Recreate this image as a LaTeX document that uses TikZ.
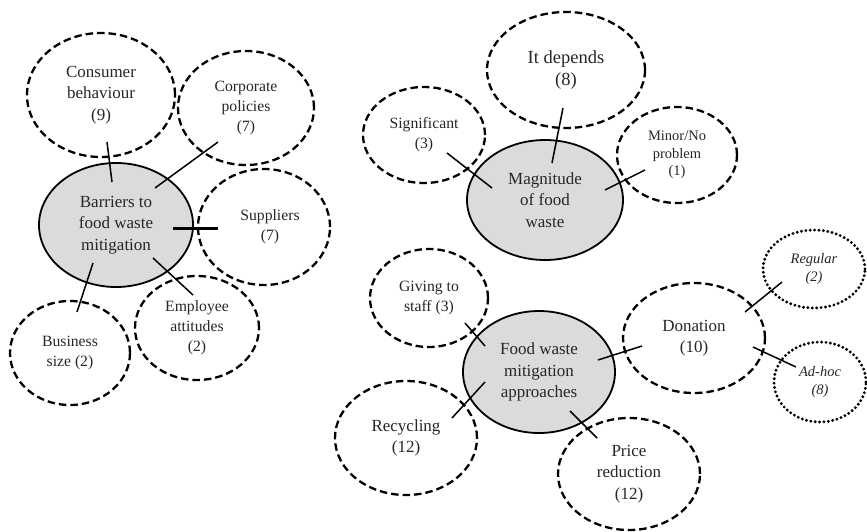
\documentclass[tikz,border=0pt]{standalone}
\usepackage{fontspec}
\setmainfont{Liberation Serif}
\usetikzlibrary{shapes.geometric,calc}
\newcommand{\hsz}{\fontsize{18.5}{22}\selectfont}
\newcommand{\bsz}{\fontsize{17}{21.5}\selectfont}
\newcommand{\msz}{\fontsize{15.7}{20}\selectfont}
\newcommand{\ssz}{\fontsize{14.5}{17.5}\selectfont}

\begin{document}
\begin{tikzpicture}[x=1pt,y=-1pt,
  sz/.style 2 args={minimum width=#1pt,minimum height=#2pt},
  bub/.style={ellipse,draw,inner sep=0pt,align=center,text=black!85},
  opt/.style={bub,line width=2.3pt,dash pattern=on 7.5pt off 4pt},
  sub/.style={bub,line width=3.2pt,line cap=round,dash pattern=on 0pt off 4.4pt},
  hub/.style={bub,line width=1.8pt,fill=black!14},
  link/.style={line width=1.5pt}]
  \useasboundingbox (0,0) rectangle (867,531);

  % barriers
  \node[hub,sz={154}{124},font=\bsz] (barr) at (116,225) {Barriers to\\food waste\\mitigation};
  \node[opt,sz={148}{124},font=\bsz] (cons) at (101,95) {Consumer\\behaviour\\(9)};
  \node[opt,sz={136}{114},font=\msz] (corp) at (246,108) {Corporate\\policies\\(7)};
  \node[opt,sz={132}{116},font=\msz] (supp) at (264,227) {\hspace*{12pt}Suppliers\\\hspace*{12pt}(7)};
  \node[opt,sz={120}{104},font=\msz] (biz) at (70,353) {Business\\size (2)};
  \node[opt,sz={124}{104},font=\msz] (emp) at (197,328) {Employee\\attitudes\\(2)};
  \draw[link] ($(cons)+(6,47)$) -- ($(barr)+(-4,-43)$);
  \draw[link] ($(corp)+(-28,34)$) -- ($(barr)+(39,-37)$);
  \draw[link,line width=3pt] ($(supp)+(-46,1)$) -- ($(barr)+(57,3)$);
  \draw[link] ($(biz)+(7,-41)$) -- ($(barr)+(-23,38)$);
  \draw[link] ($(emp)+(-4,-33)$) -- ($(barr)+(37,33)$);

  % magnitude
  \node[hub,sz={156}{120},font=\bsz] (mag) at (545,200) {Magnitude\\of food\\waste};
  \node[opt,sz={158}{116},font=\hsz] (dep) at (566,70) {It depends\\(8)};
  \node[opt,sz={122}{96},font=\msz] (sig) at (424,135) {Significant\\(3)};
  \node[opt,sz={120}{96},font=\ssz] (minor) at (677,155) {Minor/No\\problem\\(1)};
  \draw[link] ($(sig)+(23,18)$) -- ($(mag)+(-53,-12)$);
  \draw[link] ($(dep)+(-3,38)$) -- ($(mag)+(7,-37)$);
  \draw[link] ($(minor)+(-32,15)$) -- ($(mag)+(60,-10)$);

  % approaches
  \node[hub,sz={152}{122},font=\bsz] (food) at (539,372) {Food waste\\mitigation\\approaches};
  \node[opt,sz={118}{98},font=\msz] (give) at (429,298) {Giving to\\staff (3)};
  \node[opt,sz={142}{114},font=\bsz] (recy) at (406,438) {Recycling\\(12)};
  \node[opt,sz={142}{110},font=\bsz] (don) at (694,338) {Donation\\(10)};
  \node[opt,sz={142}{112},font=\bsz] (price) at (629,474) {Price\\reduction\\(12)};
  \node[sub,sz={102}{78},font=\ssz\itshape] (reg) at (814,269) {Regular\\(2)};
  \node[sub,sz={92}{80},font=\ssz\itshape] (adhoc) at (820,382) {Ad-hoc\\(8)};
  \draw[link] ($(give)+(36,25)$) -- ($(food)+(-54,-26)$);
  \draw[link] ($(recy)+(46,-20)$) -- ($(food)+(-54,10)$);
  \draw[link] ($(don)+(-52,8)$) -- ($(food)+(59,-12)$);
  \draw[link] ($(price)+(-32,-36)$) -- ($(food)+(31,39)$);
  \draw[link] ($(reg)+(-32,13)$) -- ($(don)+(51,-26)$);
  \draw[link] ($(adhoc)+(-24,-15)$) -- ($(don)+(59,9)$);
\end{tikzpicture}
\end{document}
